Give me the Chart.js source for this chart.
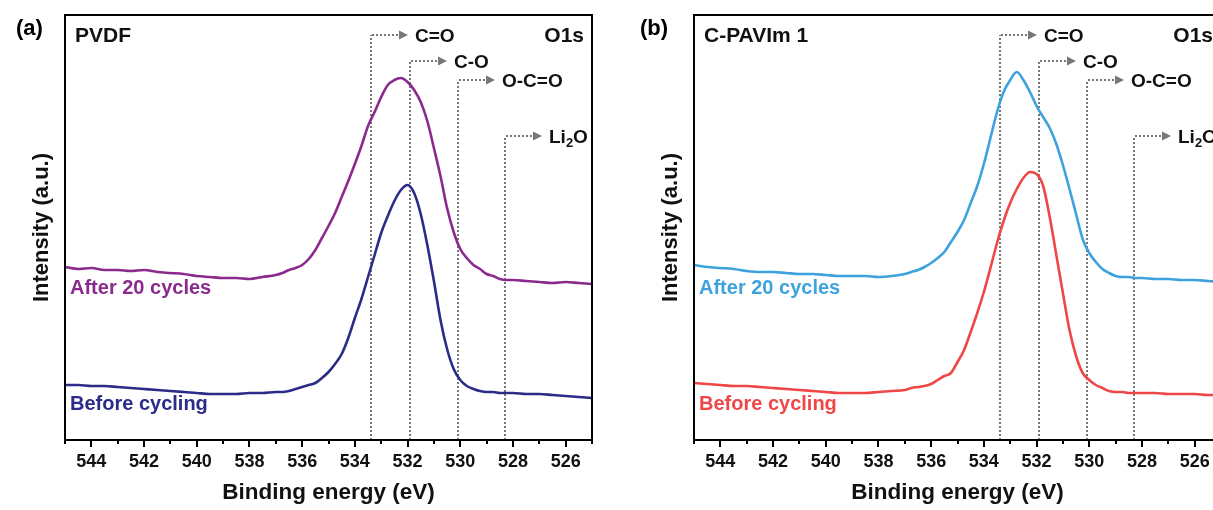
<!DOCTYPE html>
<html>
<head>
<meta charset="utf-8">
<script src="https://cdn.jsdelivr.net/npm/chart.js@4.4.1/dist/chart.umd.min.js"></script>
<style>
  html, body { margin: 0; padding: 0; background: #fff; overflow: hidden; }
  .wrap { position: relative; width: 1213px; height: 510px; overflow: hidden; }
  canvas { position: absolute; top: 0; }
  #chartA { left: 0; }
  #chartB { left: 629px; }
</style>
</head>
<body>
<div class="wrap">
  <canvas id="chartA" width="612" height="510"></canvas>
  <canvas id="chartB" width="612" height="510"></canvas>
</div>
<script>
// binding energy grid (eV)
const energy = [
  545, 544.5, 544, 543.5, 543, 542.5, 542, 541.5, 541, 540.5, 540, 539.5, 539, 538.5, 538, 537.5, 537,
  536.75, 536.5, 536.25, 536, 535.75, 535.5, 535.25, 535, 534.75, 534.5, 534.25, 534, 533.75, 533.5,
  533.25, 533, 532.75, 532.5, 532.25, 532, 531.75, 531.5, 531.25, 531, 530.75, 530.5, 530.25, 530,
  529.75, 529.5, 529.25, 529, 528.75, 528.5, 528.25, 528,
  527.5, 527, 526.5, 526, 525.5, 525
];

// (a) PVDF, intensity in a.u. (stacked as plotted)
const pvdfAfter = [
  173, 171, 172, 170, 170, 169, 170, 168, 167, 166, 164, 163, 162, 162, 161, 163, 165,
  167, 170, 172, 175, 181, 190, 202, 214, 227, 243, 259, 276, 294, 314,
  328, 343, 355, 360, 362, 358, 350, 338, 319, 292, 264, 232, 208,
  191, 182, 175, 171, 166, 164, 161, 160, 160,
  159, 158, 157, 158, 157, 156
];
const pvdfBefore = [
  55, 55, 54, 54, 53, 52, 51, 50, 49, 48, 47, 46, 46, 46, 47, 47, 48,
  48, 49, 51, 53, 55, 57, 62, 68, 76, 86, 102, 122, 141, 163,
  185, 207, 224, 239, 250, 255, 247, 226, 195, 159, 120, 91, 71,
  60, 54, 51, 49, 48, 48, 47, 47, 47,
  46, 46, 45, 44, 43, 42
];

// (b) C-PAVIm 1
const cpavAfter = [
  175, 173, 172, 171, 169, 168, 168, 167, 166, 166, 165, 164, 164, 164, 163, 164, 166,
  168, 170, 173, 177, 182, 188, 198, 208, 220, 237, 254, 276, 302, 328,
  348, 360, 368, 360, 348, 334, 323, 312, 296, 275, 251, 226, 201,
  187, 178, 171, 167, 164, 163, 163, 162, 162,
  161, 161, 160, 160, 159, 158
];
const cpavBefore = [
  57, 56, 55, 54, 54, 53, 52, 51, 50, 49, 48, 47, 47, 47, 48, 49, 50,
  52, 53, 54, 56, 60, 64, 67, 78, 90, 108, 127, 148, 172, 197,
  219, 237, 251, 262, 268, 266, 254, 223, 185, 147, 110, 84, 67,
  60, 55, 52, 49, 48, 48, 47, 47, 47,
  47, 46, 46, 46, 45, 45
];

const xTicks = [544, 542, 540, 538, 536, 534, 532, 530, 528, 526];
const peakNames = ['C=O', 'C-O', 'O-C=O', 'Li2O'];
const peakEnergies = [533.4, 531.9, 530.1, 528.3];

const FONT = "'Liberation Sans', Arial, sans-serif";
const GRAY = '#777';
// heights of the reference-line labels, in y units
const peakLevels = [405, 379, 360, 304];

const annotate = {
  id: 'annotate',
  beforeDatasetsDraw(chart) {
    const { ctx, chartArea: a, scales: { x, y } } = chart;
    ctx.save();
    ctx.strokeStyle = GRAY;
    ctx.fillStyle = GRAY;
    ctx.lineWidth = 2;
    ctx.lineCap = 'butt';
    peakEnergies.forEach((e, i) => {
      const px = Math.round(x.getPixelForValue(e));
      const py = Math.round(y.getPixelForValue(peakLevels[i]));
      ctx.setLineDash([2, 2]);
      ctx.beginPath();
      ctx.moveTo(px, Math.round(a.bottom));
      ctx.lineTo(px, py);
      ctx.stroke();
      ctx.beginPath();
      ctx.moveTo(px + 1, py);
      ctx.lineTo(px + 28, py);
      ctx.stroke();
      ctx.setLineDash([]);
      ctx.beginPath();
      ctx.moveTo(px + 28, py - 4.5);
      ctx.lineTo(px + 37, py);
      ctx.lineTo(px + 28, py + 4.5);
      ctx.closePath();
      ctx.fill();
    });
    ctx.restore();
  },
  afterDatasetsDraw(chart, args, opts) {
    const { ctx, chartArea: a, scales: { x, y } } = chart;
    ctx.save();
    // frame
    ctx.strokeStyle = '#000';
    ctx.lineWidth = 2;
    ctx.strokeRect(a.left, a.top, a.right - a.left, a.bottom - a.top);
    // ticks
    for (let v = 525; v <= 545; v++) {
      const px = Math.round(x.getPixelForValue(v));
      ctx.beginPath();
      ctx.moveTo(px, a.bottom);
      ctx.lineTo(px, a.bottom + (v % 2 === 0 ? 7 : 4));
      ctx.stroke();
    }
    // peak labels
    ctx.fillStyle = '#111';
    ctx.font = 'bold 19px ' + FONT;
    ctx.textBaseline = 'alphabetic';
    ctx.textAlign = 'left';
    peakEnergies.forEach((e, i) => {
      const px = Math.round(x.getPixelForValue(e)) + 44;
      const py = Math.round(y.getPixelForValue(peakLevels[i])) + 7;
      const name = peakNames[i];
      if (name === 'Li2O') {
        ctx.fillText('Li', px, py);
        let w = ctx.measureText('Li').width;
        ctx.font = 'bold 13px ' + FONT;
        ctx.fillText('2', px + w, py + 4);
        w += ctx.measureText('2').width;
        ctx.font = 'bold 19px ' + FONT;
        ctx.fillText('O', px + w, py);
      } else {
        ctx.fillText(name, px, py);
      }
    });
    ctx.font = 'bold 21px ' + FONT;
    ctx.fillText(opts.sample, a.left + 10, a.top + 27);
    ctx.textAlign = 'right';
    ctx.fillText('O1s', a.right - 8, a.top + 27);
    // curve labels
    ctx.font = 'bold 20px ' + FONT;
    ctx.textAlign = 'left';
    ctx.fillStyle = opts.afterColor;
    ctx.fillText('After 20 cycles', a.left + 5, 294);
    ctx.fillStyle = opts.beforeColor;
    ctx.fillText('Before cycling', a.left + 5, 410);
    // panel letter
    ctx.fillStyle = '#000';
    ctx.font = 'bold 22px ' + FONT;
    ctx.fillText(opts.panel, opts.panelX, 35);
    ctx.restore();
  }
};

function makeChart(id, panel, panelX, sample, after, before, afterColor, beforeColor) {
  const pts = arr => energy.map((e, i) => ({ x: e, y: arr[i] }));
  return new Chart(document.getElementById(id), {
    type: 'line',
    data: {
      datasets: [
        { label: 'After 20 cycles', data: pts(after), borderColor: afterColor },
        { label: 'Before cycling', data: pts(before), borderColor: beforeColor }
      ]
    },
    options: {
      responsive: false,
      animation: false,
      devicePixelRatio: 1,
      layout: { padding: { top: 15, right: 20, left: 0, bottom: 0 } },
      elements: {
        line: { borderWidth: 2.6, tension: 0.3, cubicInterpolationMode: 'monotone' },
        point: { radius: 0 }
      },
      scales: {
        x: {
          type: 'linear',
          reverse: true,
          min: 525,
          max: 545,
          afterBuildTicks: s => { s.ticks = xTicks.map(v => ({ value: v })); },
          afterFit: s => { s.height = 70; },
          grid: { display: false, drawTicks: false },
          border: { display: false },
          ticks: {
            autoSkip: false,
            maxRotation: 0,
            padding: 11,
            color: '#111',
            font: { family: FONT, size: 18, weight: 'bold' }
          },
          title: {
            display: true,
            text: 'Binding energy (eV)',
            color: '#111',
            padding: { top: 0, bottom: 4 },
            font: { family: FONT, size: 22.5, weight: 'bold' }
          }
        },
        y: {
          min: 0,
          max: 425,
          afterFit: s => { s.width = 65; },
          grid: { display: false, drawTicks: false },
          border: { display: false },
          ticks: { display: false },
          title: {
            display: true,
            text: 'Intensity (a.u.)',
            color: '#111',
            padding: { top: 29, bottom: 0 },
            font: { family: FONT, size: 22, weight: 'bold' }
          }
        }
      },
      plugins: {
        legend: { display: false },
        tooltip: { enabled: false },
        annotate: { panel, panelX, sample, afterColor, beforeColor }
      }
    },
    plugins: [annotate]
  });
}

makeChart('chartA', '(a)', 16, 'PVDF', pvdfAfter, pvdfBefore, '#8b2a8d', '#2c2c88');
makeChart('chartB', '(b)', 11, 'C-PAVIm 1', cpavAfter, cpavBefore, '#3da2de', '#ef4747');
</script>
</body>
</html>
